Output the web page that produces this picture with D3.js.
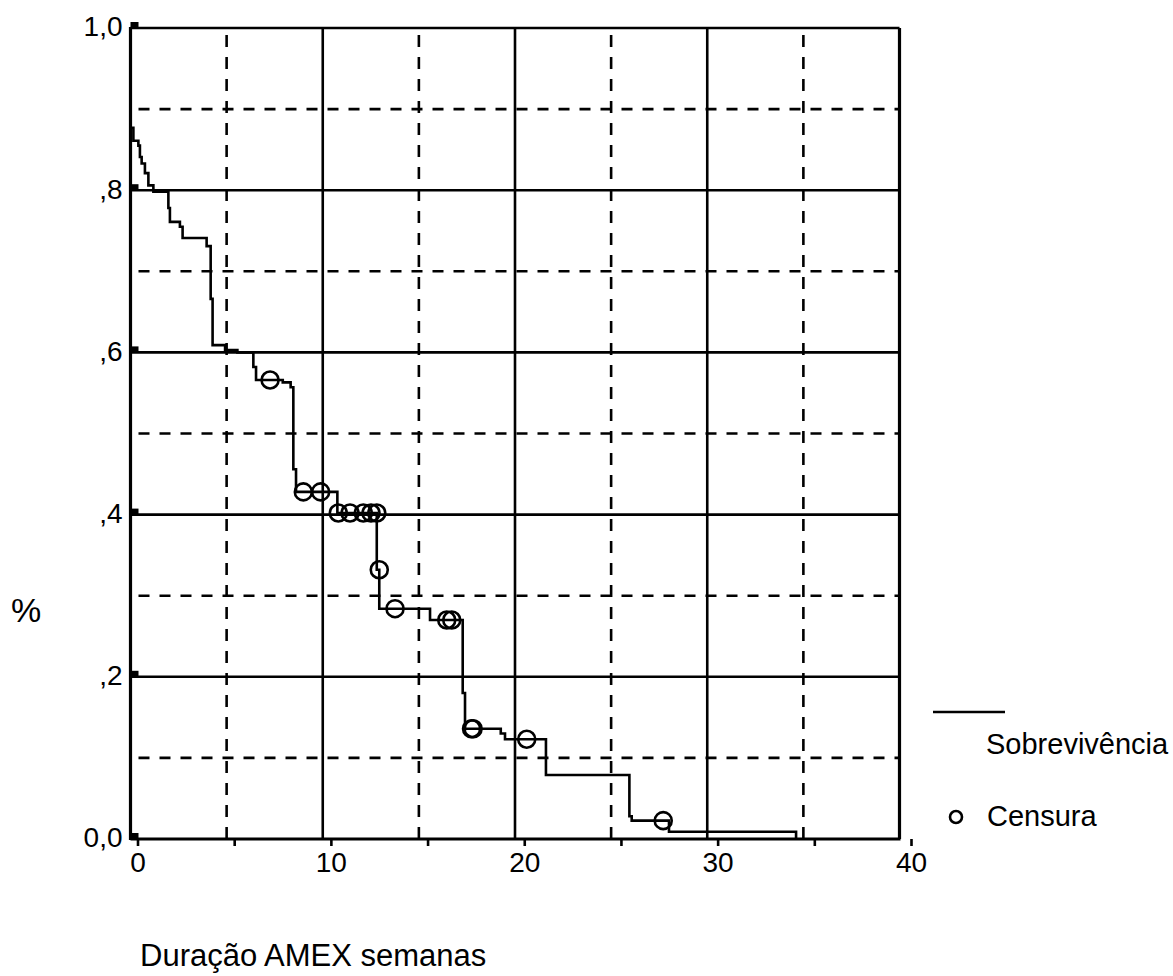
<!DOCTYPE html>
<html>
<head>
<meta charset="utf-8">
<script src="https://cdn.jsdelivr.net/npm/d3@7"></script>
<style>
body { margin: 0; background: #fff; }
text { font-family: "Liberation Sans", Arial, sans-serif; fill: #000; }
</style>
</head>
<body>
<div id="chart"></div>
<script>
// Kaplan-Meier steps (time in weeks, survival)
const step_times = [0, 0, 0.15, 0.41, 0.49, 0.58, 0.75, 0.93, 1.19, 1.97, 2.05, 2.57, 2.71,
    3.96, 4.17, 4.27, 4.92, 5.56, 6.39, 6.53, 7.92, 8.33, 8.47, 8.61, 10.76, 12.81, 12.94,
    15.58, 17.28, 17.40, 19.26, 19.48, 21.61, 25.95, 26.07, 28.01, 34.62];
const step_surv = [1.0, 0.877, 0.861, 0.855, 0.841, 0.833, 0.821, 0.806, 0.798, 0.778, 0.761, 0.755, 0.741,
    0.731, 0.666, 0.609, 0.603, 0.600, 0.582, 0.566, 0.563, 0.557, 0.456, 0.428, 0.402, 0.332, 0.284,
    0.270, 0.180, 0.136, 0.130, 0.123, 0.079, 0.028, 0.0226, 0.009, 0];

// censored cases
const censor_times = [7.26, 8.99, 9.89, 10.81, 11.42, 12.11, 12.51, 12.81, 12.94, 13.76,
    16.45, 16.71, 17.74, 17.82, 20.61, 27.71];
const censor_surv = [0.566, 0.428, 0.428, 0.402, 0.402, 0.402, 0.402, 0.402, 0.332, 0.284,
    0.270, 0.270, 0.136, 0.136, 0.123, 0.0226];

const x_ticks = [0, 5, 10, 15, 20, 25, 30, 35, 40];
const x_solid = [10, 20, 30];
const x_dashed = [5, 15, 25, 35];
const y_ticks = [0, 0.2, 0.4, 0.6, 0.8, 1.0];
const y_labels = ["0,0", ",2", ",4", ",6", ",8", "1,0"];
const y_solid = [0.2, 0.4, 0.6, 0.8];
const y_dashed = [0.1, 0.3, 0.5, 0.7, 0.9];

const svg_width = 1173, svg_height = 976;
const plot_left = 130.5, plot_right = 899.5, plot_top = 28, plot_bottom = 839;
const line_w = 2.6;

let x = d3.scaleLinear().domain([0, 40]).range([plot_left, plot_right]);
// tick marks and labels sit a little to the right of the grid
let x_tick = d3.scaleLinear().domain([0, 40]).range([137.5, 911]);
let y = d3.scaleLinear().domain([0, 1]).range([plot_bottom, plot_top]);

let svg = d3.select("#chart").append("svg")
    .attr("width", svg_width)
    .attr("height", svg_height);

svg.append("rect")
    .attr("width", svg_width)
    .attr("height", svg_height)
    .attr("fill", "#fff");

let grid = svg.append("g")
    .attr("stroke", "#000")
    .attr("stroke-width", line_w);

grid.selectAll(".vsolid").data(x_solid).enter().append("line")
    .attr("x1", d => x(d)).attr("x2", d => x(d))
    .attr("y1", plot_top).attr("y2", plot_bottom);
grid.selectAll(".vdash").data(x_dashed).enter().append("line")
    .attr("x1", d => x(d)).attr("x2", d => x(d))
    .attr("y1", plot_top + 7).attr("y2", plot_bottom)
    .attr("stroke-dasharray", "12,10");
grid.selectAll(".hsolid").data(y_solid).enter().append("line")
    .attr("x1", plot_left).attr("x2", plot_right)
    .attr("y1", d => y(d)).attr("y2", d => y(d));
grid.selectAll(".hdash").data(y_dashed).enter().append("line")
    .attr("x1", plot_left + 8).attr("x2", plot_right)
    .attr("y1", d => y(d)).attr("y2", d => y(d))
    .attr("stroke-dasharray", "11,10");

// frame
grid.append("line").attr("x1", plot_left).attr("x2", plot_right).attr("y1", y(1)).attr("y2", y(1));
grid.append("line").attr("x1", plot_right).attr("x2", plot_right)
    .attr("y1", plot_top).attr("y2", plot_bottom)
    .attr("stroke-width", 3.2);
grid.append("line").attr("x1", plot_left).attr("x2", plot_left)
    .attr("y1", plot_top - 1).attr("y2", plot_bottom + 1)
    .attr("stroke-width", 3.2);
grid.append("line").attr("x1", plot_left).attr("x2", plot_right + 1)
    .attr("y1", plot_bottom).attr("y2", plot_bottom)
    .attr("stroke-width", 3.2);

// x axis ticks and labels
let x_axis = svg.append("g")
    .attr("transform", "translate(0," + plot_bottom + ")")
    .call(d3.axisBottom(x_tick)
        .tickValues(x_ticks)
        .tickSize(7)
        .tickPadding(6)
        .tickFormat(d => d % 10 == 0 ? d : ""));
x_axis.select(".domain").remove();
x_axis.selectAll("line").attr("stroke", "#000").attr("stroke-width", line_w);
x_axis.selectAll("text").style("font-size", "28px").attr("fill", "#000");

// y axis labels
let y_axis = svg.append("g")
    .attr("transform", "translate(" + plot_left + ",0)")
    .call(d3.axisLeft(y)
        .tickValues(y_ticks)
        .tickSize(0)
        .tickPadding(8)
        .tickFormat((d, i) => y_labels[i]));
y_axis.select(".domain").remove();
y_axis.selectAll("text").style("font-size", "28px").attr("fill", "#000").attr("dy", "0.28em");

svg.selectAll(".ytick").data(y_ticks).enter().append("rect")
    .attr("x", plot_left)
    .attr("y", d => y(d) - 6)
    .attr("width", 8)
    .attr("height", 6)
    .attr("fill", "#000");

// survival curve
const steps = step_times.map((t, i) => [t, step_surv[i]]);
svg.append("path")
    .datum(steps)
    .attr("fill", "none")
    .attr("stroke", "#000")
    .attr("stroke-width", line_w)
    .attr("d", d3.line()
        .x(d => x(d[0]))
        .y(d => y(d[1]))
        .curve(d3.curveStepAfter));

const censored = censor_times.map((t, i) => [t, censor_surv[i]]);
svg.selectAll(".censor").data(censored).enter().append("circle")
    .attr("cx", d => x(d[0]))
    .attr("cy", d => y(d[1]))
    .attr("r", 8.5)
    .attr("fill", "none")
    .attr("stroke", "#000")
    .attr("stroke-width", 2.6);

// legend
svg.append("line")
    .attr("x1", 933).attr("x2", 1005)
    .attr("y1", 712).attr("y2", 712)
    .attr("stroke", "#000").attr("stroke-width", line_w);
svg.append("text")
    .attr("x", 986).attr("y", 754)
    .style("font-size", "29px")
    .text("Sobrevivência");
svg.append("circle")
    .attr("cx", 956).attr("cy", 817).attr("r", 6)
    .attr("fill", "none").attr("stroke", "#000").attr("stroke-width", 2.6);
svg.append("text")
    .attr("x", 987).attr("y", 826)
    .style("font-size", "29px")
    .text("Censura");

// axis titles
svg.append("text")
    .attr("x", 11).attr("y", 622)
    .style("font-size", "34px")
    .text("%");
svg.append("text")
    .attr("x", 140).attr("y", 966)
    .style("font-size", "31px")
    .text("Duração AMEX semanas");
</script>
</body>
</html>
